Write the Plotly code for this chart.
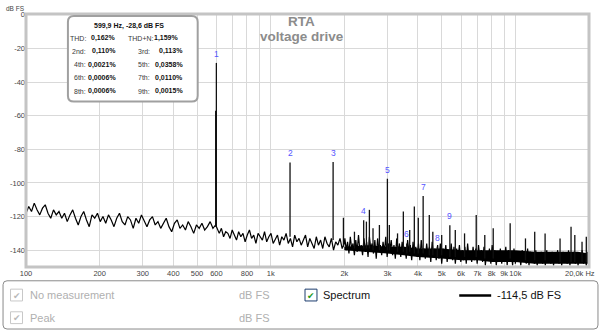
import numpy as np
import plotly.graph_objects as go

# ---------------- data ----------------
# noise floor, three frequency bands, values in dB FS
lf_range = (100, 596)
lf_db = [-118, -114, -117, -112, -116, -119, -115, -113, -118, -121, -116, -119, -117,
         -121, -118, -123, -119, -116, -121, -125, -120, -117, -122, -126, -119, -121, -118,
         -123, -120, -124, -119, -122, -126, -121, -118, -123, -125, -120, -122, -127, -121,
         -124, -119, -123, -126, -122, -120,
         -125, -123, -127, -124, -121, -126, -129, -124, -122, -127, -125, -128, -123, -126,
         -130, -125, -127, -124, -128, -126, -123, -127, -125]
mf_range = (604, 2000)
mf_db = [-127, -130, -127, -132, -129, -130, -133, -128, -131, -134, -129, -132, -130, -135, -131,
         -128, -133, -131, -136, -130, -132, -134, -129, -135, -132, -130, -136, -133, -131, -137,
         -132, -134, -130, -136, -133, -138, -131, -135, -133, -137, -134, -131, -138, -133, -136,
         -139, -132, -137, -134, -139, -132, -136, -138, -133, -140, -135, -137, -133, -139, -136]
hf_range = (2010, 20000)
hf_db = [-133, -140, -135, -142, -132, -139, -136, -143, -134, -141, -131, -140, -137, -143, -133,
         -141, -135, -144, -132, -139, -136, -142, -134, -145, -133, -140, -137, -143, -135, -141,
         -132, -144, -136, -140, -134, -143, -137, -145, -133, -141, -136, -144, -135, -142, -138,
         -145, -134, -141, -137, -146, -135, -143, -138, -144, -136, -146, -134, -142, -139, -145,
         -136, -144, -138, -147, -135, -143, -139, -146, -137, -145, -136, -148, -139, -144, -137,
         -147, -140, -145, -136, -146, -138, -148, -139, -144, -137, -147, -140, -146, -138, -148,
         -136, -145, -141, -147, -138, -146, -139, -148, -137, -145, -140, -147, -138, -149, -141,
         -146, -139, -148, -137, -146, -140, -149, -142, -147, -139, -148, -141, -146, -138, -149,
         -140, -147, -142, -149, -139, -148, -141, -146, -143, -149, -140, -147, -142, -148, -139,
         -149, -141, -147, -143, -148, -140, -149, -142, -147, -141, -148, -143, -149, -140, -147,
         -142, -148, -141, -149, -143, -147, -140, -148, -142, -149, -141, -147, -143, -148, -140,
         -149, -142, -147, -141, -148, -143, -149, -142, -147, -140, -148, -143, -149, -141, -146]

# dense high-frequency noise band (lower / upper envelope of the solid black area)
band_freq = [2000, 2500, 3000, 3500, 4000, 5000, 6000, 7000, 8000, 10000, 12000, 14000,
             16000, 18000, 20000]
band_hi = [-138, -137, -138, -138, -139, -139, -140, -140, -140, -140, -141, -141, -141, -141, -142]
band_lo = [-140, -141, -142, -143, -144, -145, -146, -146, -147, -147, -148, -148, -148, -148, -148]

# harmonics (1 = fundamental)
harm_freq = [599.9, 1199.8, 1799.7, 2399.6, 2999.5, 3599.4, 4199.3, 4799.2, 5399.1]
harm_db = [-28.6, -87.8, -87.5, -122.2, -97.5, -136.0, -107.8, -138.0, -125.1]
harm_base = [-126, -132, -134, -139, -140, -142, -142, -144, -144]

# other spurious lines
spur_freq = [596, 1983, 2200, 2462, 2532, 2620, 2782, 3055, 3300, 3485, 3700, 3865, 4012,
             4449, 4600, 5000, 5682, 6200, 6920, 7500, 8120, 9525, 11000, 12000, 13230,
             15230, 16890, 17500, 18730, 19500]
spur_db = [-57, -120.7, -129, -123, -116, -127, -125, -125, -130, -117, -128, -114, -120.7,
           -119, -129, -131, -128, -130, -119, -131, -127, -124, -133, -129, -130,
           -133, -126, -131, -135, -132]
spur_base = [-126, -138, -139, -139, -139, -140, -140, -140, -141, -141, -141, -142, -142,
             -143, -143, -143, -144, -144, -144, -145, -145, -145, -146, -146, -146,
             -147, -147, -147, -147, -147]

# axis ticks
xtick_vals = [100, 200, 300, 400, 500, 600, 700, 800, 900, 1000, 2000, 3000, 4000, 5000,
              6000, 7000, 8000, 9000, 10000]
xtick_text = ["100", "200", "300", "400", "500", "600", "", "800", "", "1k", "2k", "3k", "4k",
              "5k", "6k", "7k", "8k", "9k", "10k"]
ytick_vals = [0, -20, -40, -60, -80, -100, -120, -140]
ytick_text = ["0", "-20", "-40", "-60", "-80", "-100", "-120", "-140"]

# distortion table
tbl_lab_l = ["THD:", "2nd:", "4th:", "6th:", "8th:"]
tbl_val_l = ["0,162%", "0,110%", "0,0021%", "0,0006%", "0,0006%"]
tbl_lab_r = ["THD+N:", "3rd:", "5th:", "7th:", "9th:"]
tbl_val_r = ["1,159%", "0,113%", "0,0358%", "0,0110%", "0,0015%"]
tbl_header = "599,9 Hz, -28,6 dB FS"

# ---------------- figure ----------------
W, H = 600, 332
ML, MR, MT, MB = 25, 11, 10, 65
PW, PH = W - ML - MR, H - MT - MB


def px(x):
    return (x - ML) / PW


def py(y):
    return (H - MB - y) / PH


def rrect(x0, y0, x1, y1, r):
    X0, X1, Yt, Yb = px(x0), px(x1), py(y0), py(y1)
    rx, ry = r / PW, r / PH
    return (f"M{X0+rx},{Yt} L{X1-rx},{Yt} Q{X1},{Yt} {X1},{Yt-ry} "
            f"L{X1},{Yb+ry} Q{X1},{Yb} {X1-rx},{Yb} L{X0+rx},{Yb} Q{X0},{Yb} {X0},{Yb+ry} "
            f"L{X0},{Yt-ry} Q{X0},{Yt} {X0+rx},{Yt} Z")


freqs = np.concatenate([np.geomspace(*lf_range, len(lf_db)),
                        np.geomspace(*mf_range, len(mf_db)),
                        np.geomspace(*hf_range, len(hf_db))])
levels = np.array(lf_db + mf_db + hf_db, dtype=float)

sx, sy = [], []
for f, top, base in zip(harm_freq + spur_freq, harm_db + spur_db, harm_base + spur_base):
    sx += [f, f, None]
    sy += [base, top, None]

fig = go.Figure()
fig.add_trace(go.Scatter(x=band_freq, y=band_lo, mode="lines", line=dict(width=0, color="black"),
                         hoverinfo="skip"))
fig.add_trace(go.Scatter(x=band_freq, y=band_hi, mode="lines", line=dict(width=0, color="black"),
                         fill="tonexty", fillcolor="black", hoverinfo="skip"))
fig.add_trace(go.Scatter(x=freqs, y=levels, mode="lines",
                         line=dict(color="black", width=1.2), hoverinfo="skip"))
fig.add_trace(go.Scatter(x=sx, y=sy, mode="lines",
                         line=dict(color="#111111", width=1.3), hoverinfo="skip"))

FONT = "Liberation Sans, Arial, sans-serif"
ann = []


def label(text, x, y, size, color, xanchor="center", family=FONT):
    ann.append(dict(x=px(x), y=py(y), xref="paper", yref="paper", text=text, showarrow=False,
                    xanchor=xanchor, yanchor="middle",
                    font=dict(family=family, size=size, color=color)))


# harmonic labels
for i, (f, d) in enumerate(zip(harm_freq, harm_db)):
    ann.append(dict(x=np.log10(f), y=d, xref="x", yref="y", text=str(i + 1), showarrow=False,
                    xanchor="center", yanchor="middle", yshift=9,
                    font=dict(family=FONT, size=8.5, color="#5555ff")))
# title
label("<b>RTA</b>", 301, 18, 13.5, "#8c8c8c")
label("<b>voltage drive</b>", 301, 33, 13.5, "#8c8c8c")
# axis unit labels
label("dB FS", 3, 4, 6.5, "#444444", xanchor="left")
label("20,0k Hz", 597, 274, 7.5, "#444444", xanchor="right")
# info box text
label("<b>" + tbl_header + "</b>", 128, 22, 7, "#111111")
row_y = [34.5, 48, 61.5, 75, 88.5]
for i, yy in enumerate(row_y):
    label(tbl_lab_l[i], 87.5, yy, 7, "#3a3a3a", xanchor="right")
    label("<b>" + tbl_val_l[i] + "</b>", 117, yy, 7, "#111111", xanchor="right")
    label(tbl_lab_r[i], 155.5 if i == 0 else 151, yy, 7, "#3a3a3a", xanchor="right")
    label("<b>" + tbl_val_r[i] + "</b>", 180 if i == 0 else 184, yy, 7, "#111111", xanchor="right")

# legend panel text
GREY = "#b0b0b0"
r1, r2 = 295.5, 318.5
for txt, x, y, col in [("No measurement", 27, r1, GREY), ("dB FS", 236, r1, GREY),
                       ("Spectrum", 321, r1, "#111111"), ("-114,5 dB FS", 495, r1, "#111111"),
                       ("Peak", 27, r2, GREY), ("dB FS", 236, r2, GREY)]:
    label(txt, x, y, 11, col, xanchor="left")
for cx, cy, col in [(15.5, r1, "#b8b8b8"), (15.5, r2, "#b8b8b8"), (310.5, r1, "#1e9a1e")]:
    label("✔", cx, cy + 0.5, 9, col, family="DejaVu Sans")

shapes = [
    # plot frame
    dict(type="rect", xref="paper", yref="paper", x0=0, x1=1, y0=0, y1=1,
         line=dict(color="#c4c4c4", width=3), layer="above"),
    # info box
    dict(type="path", xref="paper", yref="paper", path=rrect(67, 12, 197, 99, 6),
         fillcolor="white", line=dict(color="#a0a0a0", width=2), layer="above"),
    # legend panel
    dict(type="path", xref="paper", yref="paper", path=rrect(2, 281, 598, 330, 4),
         fillcolor="white", line=dict(color="#8a8a8a", width=1), layer="above"),
    # checkboxes
    dict(type="rect", xref="paper", yref="paper", x0=px(9.5), x1=px(21.5), y0=py(r1 + 6), y1=py(r1 - 6),
         line=dict(color="#c8c8c8", width=1), fillcolor="white", layer="above"),
    dict(type="rect", xref="paper", yref="paper", x0=px(9.5), x1=px(21.5), y0=py(r2 + 6), y1=py(r2 - 6),
         line=dict(color="#c8c8c8", width=1), fillcolor="white", layer="above"),
    dict(type="rect", xref="paper", yref="paper", x0=px(304.5), x1=px(316.5), y0=py(r1 + 6), y1=py(r1 - 6),
         line=dict(color="#1c3d6e", width=1), fillcolor="white", layer="above"),
    # legend line sample
    dict(type="line", xref="paper", yref="paper", x0=px(459), x1=px(491), y0=py(r1 + 0.5), y1=py(r1 + 0.5),
         line=dict(color="black", width=2.5), layer="above"),
]

fig.update_layout(
    width=W, height=H, margin=dict(l=ML, r=MR, t=MT, b=MB, pad=0),
    paper_bgcolor="white", plot_bgcolor="white", showlegend=False,
    annotations=ann, shapes=shapes,
    xaxis=dict(type="log", range=[2, np.log10(20000)], tickvals=xtick_vals, ticktext=xtick_text,
               tickangle=0, showgrid=True, gridcolor="#d9d9d9", gridwidth=1, zeroline=False,
               showline=False, ticks="", tickfont=dict(family=FONT, size=7.5, color="#444444")),
    yaxis=dict(range=[-150, 0.5], tickvals=ytick_vals, ticktext=ytick_text,
               showgrid=True, gridcolor="#d9d9d9", gridwidth=1, zeroline=False, showline=False,
               ticks="", tickfont=dict(family=FONT, size=7.5, color="#444444")),
)

fig.write_html("out.html", config={"displayModeBar": False})
